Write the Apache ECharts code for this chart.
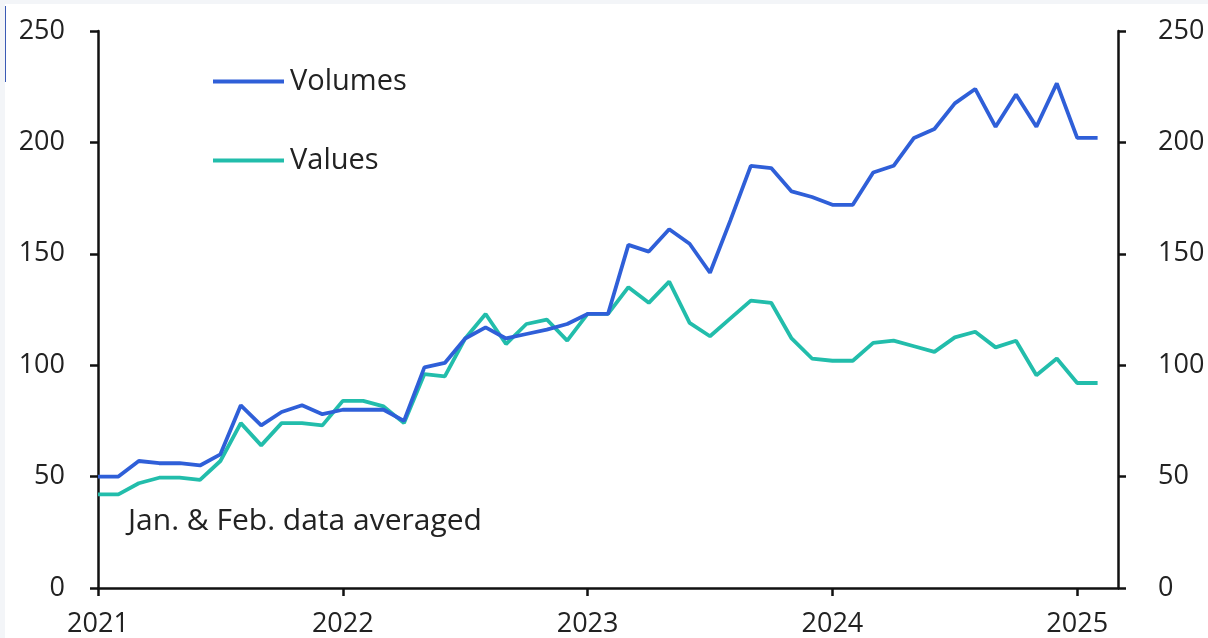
<!DOCTYPE html>
<html>
<head>
<meta charset="utf-8">
<script src="https://cdn.jsdelivr.net/npm/echarts@6/dist/echarts.min.js"></script>
<style>
  html, body { margin: 0; padding: 0; background: #f3f5f8; }
  #frame { position: absolute; left: 5px; top: 4px; width: 1203px; height: 634px; background: #fff; }
  #edge { position: absolute; left: 5px; top: 6px; width: 1px; height: 76px; background: #3b5bb5; }
  #chart { width: 1203px; height: 634px; }
</style>
</head>
<body>
<div id="frame"><div id="chart"></div></div>
<div id="edge"></div>
<script>
// monthly, Jan 2021 .. Mar 2025 (last month is empty room at the axis end)
const months = [
  '2021-01', '2021-02', '2021-03', '2021-04', '2021-05', '2021-06',
  '2021-07', '2021-08', '2021-09', '2021-10', '2021-11', '2021-12',
  '2022-01', '2022-02', '2022-03', '2022-04', '2022-05', '2022-06',
  '2022-07', '2022-08', '2022-09', '2022-10', '2022-11', '2022-12',
  '2023-01', '2023-02', '2023-03', '2023-04', '2023-05', '2023-06',
  '2023-07', '2023-08', '2023-09', '2023-10', '2023-11', '2023-12',
  '2024-01', '2024-02', '2024-03', '2024-04', '2024-05', '2024-06',
  '2024-07', '2024-08', '2024-09', '2024-10', '2024-11', '2024-12',
  '2025-01', '2025-02', '2025-03'
];

const volumes = [
  50, 50, 57, 56, 56, 55, 60, 82, 73, 79, 82, 78,
  80, 80, 80, 75, 99, 101, 112, 117, 112, 114, 116, 118.5,
  123, 123, 154, 151, 161, 154.5, 141.5, 165, 189.5, 188.5, 178, 175.5,
  172, 172, 186.5, 189.5, 202, 206, 217.5, 224, 207, 221.5, 207, 226.5,
  202, 202
];

const values = [
  42, 42, 47, 49.5, 49.5, 48.5, 57, 74, 64, 74, 74, 73,
  84, 84, 81.5, 74, 96, 95, 112, 123, 109.5, 118.5, 120.5, 111,
  123, 123, 135, 128, 137.5, 119, 113, 121, 129, 128, 112, 103,
  102, 102, 110, 111, 108.5, 106, 112.5, 115, 108, 111, 95.5, 103,
  92, 92
];

const yTicks = [0, 50, 100, 150, 200, 250];
const note = 'Jan. & Feb. data averaged';

const FONT = '"Open Sans", "Noto Sans", sans-serif';
const INK = '#222';
const BLUE = '#2f5fd8';
const TEAL = '#22bdab';

const chart = echarts.init(document.getElementById('chart'), null, { renderer: 'canvas' });

const yAxisBase = {
  type: 'value',
  min: yTicks[0],
  max: yTicks[yTicks.length - 1],
  interval: 50,
  axisLine: { show: true, lineStyle: { color: '#111', width: 2.5 } },
  axisTick: { show: true, length: 8, lineStyle: { color: '#111', width: 2.5 } },
  splitLine: { show: false },
  axisLabel: { color: INK, fontFamily: FONT, fontSize: 27, margin: 33 }
};

chart.setOption({
  animation: false,
  backgroundColor: '#fff',
  grid: { left: 93, right: 90, top: 27, bottom: 48, containLabel: false },
  legend: {
    orient: 'vertical',
    left: 203,
    top: 58,
    icon: 'rect',
    itemWidth: 71,
    itemHeight: 4,
    itemGap: 50,
    textStyle: { color: INK, fontFamily: FONT, fontSize: 29, padding: [0, 0, 0, 1] },
    data: ['Volumes', 'Values']
  },
  xAxis: {
    type: 'category',
    data: months,
    boundaryGap: false,
    axisLine: { lineStyle: { color: '#111', width: 2.5 } },
    axisTick: {
      length: 8,
      interval: (i) => i % 12 === 0,
      lineStyle: { color: '#111', width: 2.5 }
    },
    axisLabel: {
      interval: (i) => i % 12 === 0,
      formatter: (v) => v.slice(0, 4),
      color: INK,
      fontFamily: FONT,
      fontSize: 27,
      margin: 23
    },
    splitLine: { show: false }
  },
  yAxis: [
    Object.assign({}, yAxisBase, { position: 'left' }),
    Object.assign({}, yAxisBase, {
      position: 'right',
      axisLabel: Object.assign({}, yAxisBase.axisLabel, { margin: 40 })
    })
  ],
  graphic: [{
    type: 'text',
    x: 123,
    y: 517,
    style: {
      text: note,
      fill: INK,
      font: '30px ' + FONT,
      verticalAlign: 'middle'
    }
  }],
  series: [
    {
      name: 'Volumes',
      type: 'line',
      data: volumes,
      symbol: 'none',
      lineStyle: { color: BLUE, width: 3.8 },
      itemStyle: { color: BLUE },
      z: 3
    },
    {
      name: 'Values',
      type: 'line',
      data: values,
      symbol: 'none',
      lineStyle: { color: TEAL, width: 3.8 },
      itemStyle: { color: TEAL },
      z: 2
    }
  ]
});
</script>
</body>
</html>
